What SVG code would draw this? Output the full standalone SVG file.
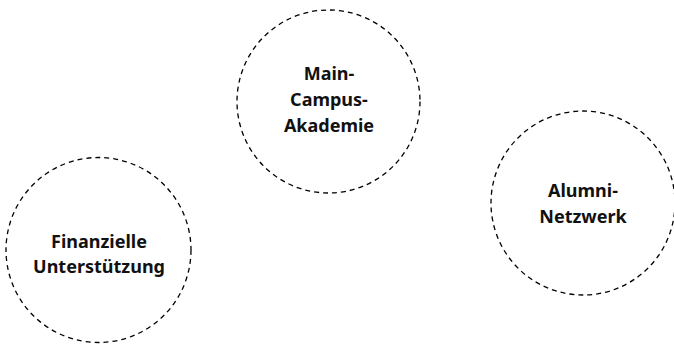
<svg xmlns="http://www.w3.org/2000/svg" width="674" height="345" viewBox="0 0 674 345">
  <style>
    .ring { fill: none; stroke: #000; stroke-width: 1.3; stroke-dasharray: 5 4; }
    .label { font-family: "Noto Sans", "Open Sans", sans-serif; font-size: 18px; font-weight: 700; fill: #111; text-anchor: middle; }
  </style>
  <rect width="674" height="345" fill="#fff"/>
  <g id="akademie">
    <circle class="ring" cx="328.5" cy="101.5" r="91.5"/>
    <text class="label" x="329" y="80">Main-</text>
    <text class="label" x="329" y="106">Campus-</text>
    <text class="label" x="329" y="132">Akademie</text>
  </g>
  <g id="alumni">
    <circle class="ring" cx="583" cy="203" r="92"/>
    <text class="label" x="583" y="197">Alumni-</text>
    <text class="label" x="583" y="223">Netzwerk</text>
  </g>
  <g id="finanzen">
    <circle class="ring" cx="98.5" cy="250" r="92.5"/>
    <text class="label" x="99" y="248">Finanzielle</text>
    <text class="label" x="99" y="273">Unterstützung</text>
  </g>
  <g id="connectors"/>
</svg>
